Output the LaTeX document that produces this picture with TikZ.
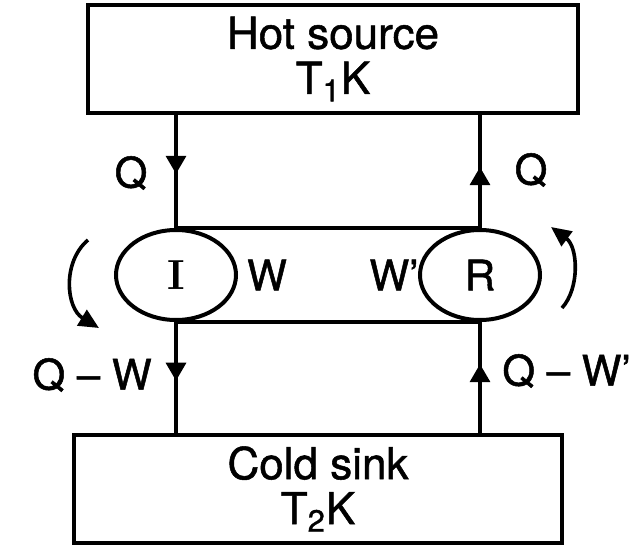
\documentclass[tikz,border=0pt]{standalone}
\usepackage{fontspec}
\setsansfont{TeX Gyre Heros}[BoldFont={TeX Gyre Heros}, BoldFeatures={FakeBold=1.2}]
\usetikzlibrary{arrows.meta, positioning, shapes.geometric, decorations.markings}

\begin{document}
\begin{tikzpicture}[x=0.5pt, y=-0.5pt,
  res/.style={rectangle, draw=black, line width=2.2pt, minimum width=244pt, minimum height=54pt,
              inner sep=0pt, align=center, font=\sffamily\bfseries\fontsize{22}{22.5}\selectfont},
  eng/.style={ellipse, draw=black, line width=2pt, minimum width=60pt, minimum height=45pt,
              inner sep=0pt, font=\sffamily\bfseries\fontsize{21}{21}\selectfont},
  lbl/.style={inner sep=0pt, font=\sffamily\bfseries\fontsize{21}{21}\selectfont},
  flow/.style={line width=1.6pt, postaction={decorate},
               decoration={markings, mark=at position #1 with {\arrow{Triangle[length=9pt, width=10pt]}}}},
  turn/.style={line width=1.8pt, -{Triangle[length=10pt, width=9pt]}}
]
  \useasboundingbox (0,0) rectangle (643,552);

  % reservoirs
  \node[res, minimum width=245pt] (hot) at (333,59) {Hot source\\T\textsubscript{1}K};
  \node[res, minimum height=54pt] (cold) at (318,489) {Cold sink\\T\textsubscript{2}K};

  % engines
  \node[eng, font=\rmfamily\bfseries\fontsize{21}{21}\selectfont] (I) at (176,275) {I};
  \node[eng] (R) at (480,275) {R};
  \draw[line width=2pt] (I.north) -- (R.north);
  \draw[line width=2pt] (I.south) -- (R.south);

  % heat flows
  \draw[flow=0.52] (I.north |- hot.south) -- (I.north);
  \draw[flow=0.54] (R.north) -- (R.north |- hot.south);
  \draw[flow=0.53] (I.south) -- (I.south |- cold.north);
  \draw[flow=0.62] (R.south |- cold.north) -- (R.south);

  \node[lbl] (qin) at (131,173) {Q};
  \node[lbl] (qout) at (531,170) {Q};
  \node[lbl] (w) at (267,275) {W};
  \node[lbl] (wr) at (394,275) {W’};
  \node[lbl, anchor=east] (qw) at (152,375) {Q – W};
  \node[lbl, anchor=west] (qwr) at (502,371) {Q – W’};

  % sense of rotation
  \coordinate (lt1) at (88,240);
  \coordinate (lt2) at (99,328);
  \draw[turn] (lt1) .. controls (62,262) and (66,308) .. (lt2);
  \coordinate (rt1) at (562,308);
  \coordinate (rt2) at (551,227);
  \draw[turn] (rt1) .. controls (580,288) and (578,247) .. (rt2);
\end{tikzpicture}
\end{document}
